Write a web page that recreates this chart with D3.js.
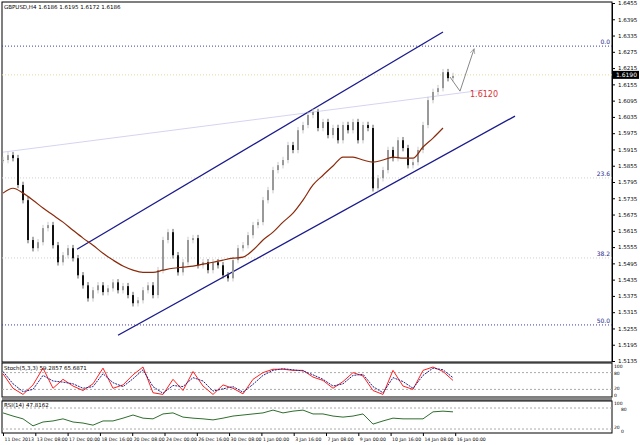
<!DOCTYPE html>
<html><head><meta charset="utf-8">
<script src="https://cdn.jsdelivr.net/npm/d3@7"></script>
<style>body{margin:0;background:#fff}text{font-family:"DejaVu Sans",sans-serif}</style>
</head><body><div id="chart"></div>
<script>
var closes = [1.5876,1.5894,1.5883,1.5784,1.5728,1.5581,1.5551,1.5573,1.5625,1.5636,
  1.5562,1.5499,1.5525,1.5551,1.5514,1.5451,1.5414,1.5366,1.5396,1.5414,
  1.5389,1.5403,1.5425,1.5396,1.5411,1.5378,1.5348,1.5359,1.5396,1.5414,
  1.5378,1.5470,1.5581,1.5610,1.5525,1.5462,1.5499,1.5581,1.5588,1.5488,
  1.5499,1.5470,1.5499,1.5488,1.5451,1.5440,1.5507,1.5551,1.5562,1.5599,
  1.5636,1.5647,1.5728,1.5765,1.5839,1.5857,1.5876,1.5931,1.5913,1.5986,
  1.6005,1.6042,1.6053,1.5994,1.6016,1.5968,1.5994,1.5949,1.6005,1.5986,
  1.6016,1.5949,1.6005,1.5994,1.5772,1.5809,1.5839,1.5913,1.5883,1.5949,
  1.5920,1.5857,1.5868,1.5913,1.6005,1.6097,1.6127,1.6141,1.6200,1.6178,1.6186];
var ma = [1.5754,1.5772,1.5754,1.5728,1.5699,1.5673,1.5647,1.5617,1.5588,1.5562,
  1.5532,1.5507,1.5485,1.5470,1.5462,1.5462,1.5470,1.5477,1.5481,1.5485,
  1.5492,1.5499,1.5507,1.5514,1.5518,1.5544,1.5581,1.5610,1.5647,1.5680,
  1.5728,1.5784,1.5820,1.5854,1.5887,1.5887,1.5876,1.5868,1.5876,1.5887,
  1.5883,1.5883,1.5924,1.5957,1.5994];
var stochK = [76,24,2,36,96,24,56,32,16,40,96,24,36,72,100,8,2,56,16,84,32,2,36,24,4,
  56,80,92,92,88,88,64,52,24,48,80,68,16,2,88,32,20,88,100,84,52];
var stochD = [84,40,12,20,70,50,46,40,24,30,76,44,30,58,90,30,6,34,30,62,50,14,22,30,10,
  38,70,88,94,90,86,72,56,32,40,70,74,30,8,62,48,24,70,96,90,62];
var rsi = [66,57,49,29,40,43,49,40,37,31,43,43,51,60,51,49,63,66,54,51,49,46,51,57,60,
  63,66,74,66,71,74,63,63,57,54,57,63,34,43,51,49,49,49,69,71,69];
var priceTicks = [1.6455,1.6395,1.6335,1.6275,1.6215,1.6155,1.6095,1.6035,1.5975,1.5915,
  1.5855,1.5795,1.5735,1.5675,1.5615,1.5555,1.5495,1.5435,1.5375,1.5315,1.5255,1.5195,1.5135];
var fibLevels = [{label:"0.0",price:1.6296,major:true},{label:"23.6",price:1.5810,major:false},
  {label:"38.2",price:1.5515,major:false},{label:"50.0",price:1.5268,major:true}];
var channels = [[[14.8,1.5547],[88,1.6348]],[[23,1.5230],[102.4,1.6038]]];
var faintLine = [[0,1.5905],[96,1.6134]];
var arrowPath = [[89.4,1.6182],[91.4,1.6130],[94.2,1.6285]];
var target = {idx:93.4, price:1.6108, label:"1.6120"};
var lastPrice = 1.6190;
var dateLabels = ["11 Dec 2013","13 Dec 08:00","17 Dec 00:00","18 Dec 16:00","20 Dec 08:00",
  "24 Dec 00:00","26 Dec 16:00","30 Dec 08:00","1 Jan 00:00","3 Jan 16:00","7 Jan 08:00",
  "9 Jan 00:00","10 Jan 16:00","14 Jan 08:00","16 Jan 00:00"];
var title = "GBPUSD,H4  1.6186 1.6195 1.6172 1.6186";

var W = 640, H = 445, axisX = 612;
var svg = d3.select("#chart").append("svg").attr("width", W).attr("height", H);

var x = d3.scaleLinear().domain([0, 90]).range([3, 453]);
var y = d3.scaleLinear().domain([1.5135, 1.6455]).range([361, 3]);
var yS = d3.scaleLinear().domain([0, 100]).range([395, 367]);
var yR = d3.scaleLinear().domain([20, 80]).range([429, 408]);
var xI = d3.scaleLinear().domain([0, 45]).range([3, 453]);

// frames
svg.append("rect").attr("x", 2).attr("y", 2).attr("width", axisX - 2).attr("height", 360)
  .attr("fill", "none").attr("stroke", "#000");
svg.append("rect").attr("x", 2).attr("y", 363).attr("width", axisX - 2).attr("height", 34)
  .attr("fill", "none").attr("stroke", "#000");
svg.append("rect").attr("x", 2).attr("y", 398).attr("width", axisX - 2).attr("height", 3).attr("fill", "#888");
svg.append("rect").attr("x", 2).attr("y", 401).attr("width", axisX - 2).attr("height", 32)
  .attr("fill", "none").attr("stroke", "#000");

// fib levels
fibLevels.forEach(function(f){
  svg.append("line").attr("x1", 2).attr("x2", axisX).attr("y1", y(f.price)).attr("y2", y(f.price))
    .attr("stroke", f.major ? "#3a3aa8" : "#d0d0d0").attr("stroke-dasharray", "1,2");
  svg.append("text").attr("x", axisX - 2).attr("y", y(f.price) - 2).attr("text-anchor", "end")
    .attr("font-size", 6).attr("fill", "#2a2a8a").text(f.label);
});
svg.append("line").attr("x1", 2).attr("x2", axisX).attr("y1", y(lastPrice)).attr("y2", y(lastPrice))
  .attr("stroke", "#e0dca0").attr("stroke-dasharray", "1,2");

// faint line
svg.append("line").attr("x1", x(faintLine[0][0])).attr("y1", y(faintLine[0][1]))
  .attr("x2", x(faintLine[1][0])).attr("y2", y(faintLine[1][1])).attr("stroke", "#d4d4f2");

// channels
channels.forEach(function(c){
  svg.append("line").attr("x1", x(c[0][0])).attr("y1", y(c[0][1]))
    .attr("x2", x(c[1][0])).attr("y2", y(c[1][1])).attr("stroke", "#1a1a8c").attr("stroke-width", 1.3);
});

// candles
var bars = closes.map(function(c, i){ return {i:i, o: i ? closes[i-1] : c, c:c}; });
svg.selectAll("line.wick").data(bars).enter().append("line")
  .attr("x1", function(d){ return x(d.i); }).attr("x2", function(d){ return x(d.i); })
  .attr("y1", function(d){ return y(Math.max(d.o, d.c) + 0.0012); })
  .attr("y2", function(d){ return y(Math.min(d.o, d.c) - 0.0012); })
  .attr("stroke", function(d){ return d.c >= d.o ? "#bbb" : "#333"; }).attr("stroke-width", 0.8);
svg.selectAll("rect.body").data(bars).enter().append("rect")
  .attr("x", function(d){ return x(d.i) - 1; })
  .attr("y", function(d){ return y(Math.max(d.o, d.c)); })
  .attr("width", 2)
  .attr("height", function(d){ return Math.max(1, y(Math.min(d.o, d.c)) - y(Math.max(d.o, d.c))); })
  .attr("fill", function(d){ return d.c >= d.o ? "#999" : "#111"; });

// moving average
svg.append("path").datum(ma).attr("fill", "none").attr("stroke", "#8b2a0a").attr("stroke-width", 1.2)
  .attr("d", d3.line().curve(d3.curveMonotoneX).x(function(d, i){ return xI(i); }).y(function(d){ return y(d); }));

// projection arrow
svg.append("defs").append("marker").attr("id", "ah").attr("viewBox", "0 0 10 10")
  .attr("refX", 8).attr("refY", 5).attr("markerWidth", 6).attr("markerHeight", 6).attr("orient", "auto")
  .append("path").attr("d", "M0,1 L9,5 L0,9").attr("fill", "none").attr("stroke", "#888");
svg.append("path").datum(arrowPath).attr("fill", "none").attr("stroke", "#888").attr("marker-end", "url(#ah)")
  .attr("d", d3.line().x(function(d){ return x(d[0]); }).y(function(d){ return y(d[1]); }));
svg.append("text").attr("x", x(target.idx)).attr("y", y(target.price)).attr("font-size", 8)
  .attr("fill", "#e03030").text(target.label);

// price axis
var ax = svg.append("g").attr("transform", "translate(" + axisX + ",0)")
  .call(d3.axisRight(y).tickValues(priceTicks).tickSize(3).tickFormat(d3.format(".4f")));
ax.select(".domain").attr("stroke", "#000");
ax.selectAll("text").attr("font-size", 5.5).attr("fill", "#000");
var lp = svg.append("g").attr("transform", "translate(" + (axisX + 1) + "," + y(lastPrice) + ")");
lp.append("rect").attr("x", 0).attr("y", -4).attr("width", 26).attr("height", 8).attr("fill", "#000");
lp.append("text").attr("x", 3).attr("y", 2.5).attr("font-size", 6).attr("fill", "#fff").text(d3.format(".4f")(lastPrice));

// stochastic
[80, 20].forEach(function(v){
  svg.append("line").attr("x1", 2).attr("x2", axisX).attr("y1", yS(v)).attr("y2", yS(v))
    .attr("stroke", "#aaa").attr("stroke-dasharray", "2,2");
});
svg.append("path").datum(stochK).attr("fill", "none").attr("stroke", "#ff2020")
  .attr("d", d3.line().x(function(d, i){ return xI(i); }).y(function(d){ return yS(d); }));
svg.append("path").datum(stochD).attr("fill", "none").attr("stroke", "#20208c").attr("stroke-dasharray", "2,1")
  .attr("d", d3.line().x(function(d, i){ return xI(i); }).y(function(d){ return yS(d); }));
svg.append("text").attr("x", 4).attr("y", 370).attr("font-size", 5.5).text("Stoch(5,3,3) 59.2857 65.6871");
[["100",368],["80",yS(80)+2],["20",yS(20)+1],["0",396.5]].forEach(function(t){
  svg.append("text").attr("x", axisX + 2).attr("y", t[1]).attr("font-size", 4.5).text(t[0]);
});

// rsi
[80, 20].forEach(function(v){
  svg.append("line").attr("x1", 2).attr("x2", axisX).attr("y1", yR(v)).attr("y2", yR(v))
    .attr("stroke", "#aaa").attr("stroke-dasharray", "2,2");
});
svg.append("path").datum(rsi).attr("fill", "none").attr("stroke", "#2e6e2e")
  .attr("d", d3.line().x(function(d, i){ return xI(i); }).y(function(d){ return yR(d); }));
svg.append("text").attr("x", 4).attr("y", 407).attr("font-size", 5.5).text("RSI(14) 47.8162");
[["100",405,2],["80",yR(80)+3,9],["20",yR(20),2],["0",433,9]].forEach(function(t){
  svg.append("text").attr("x", axisX + t[2]).attr("y", t[1]).attr("font-size", 4.5).text(t[0]);
});

// time axis
var xd = d3.scalePoint().domain(dateLabels).range([3, 3 + 32.3 * (dateLabels.length - 1)]);
var xa = svg.append("g").attr("transform", "translate(0,433)")
  .call(d3.axisBottom(xd).tickSize(3).tickPadding(2));
xa.select(".domain").remove();
xa.selectAll("text").attr("font-size", 4.6).attr("text-anchor", "start").attr("dx", 1).attr("fill", "#000");

svg.append("text").attr("x", 4).attr("y", 9).attr("font-size", 5.5).attr("fill", "#000").text(title);
</script></body></html>
